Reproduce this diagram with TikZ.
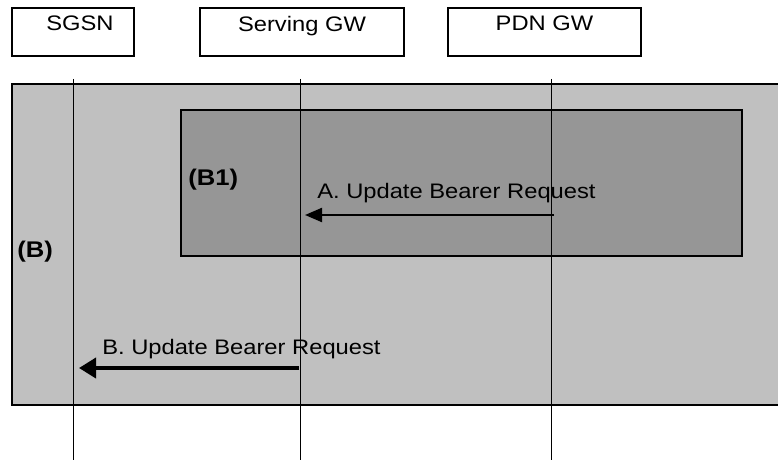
\documentclass[tikz,border=0pt]{standalone}
\usepackage{fontspec}
\setmainfont{Liberation Sans}[FakeStretch=1.13]
\usetikzlibrary{arrows.meta}
\definecolor{outerfill}{HTML}{C0C0C0}
\definecolor{innerfill}{HTML}{969696}
\tikzset{
  entity/.style={draw,line width=1.5pt,minimum height=36pt,inner sep=0pt},
  entlabel/.style={anchor=north,inner sep=0pt,yshift=-6.75pt,font=\fontsize{15.75}{18}\selectfont},
  lifeline/.style={line width=.75pt},
  msgtext/.style={anchor=base west,inner sep=0pt,font=\fontsize{15.75}{18}\selectfont},
  proctext/.style={anchor=base west,inner sep=0pt,font=\fontsize{17}{20}\selectfont\bfseries},
  msgthin/.style={line width=1.6pt,-{Triangle[length=12.75pt,width=10.5pt]}},
  msgthick/.style={line width=2.8pt,-{Triangle[length=12.75pt,width=15pt]}}
}
\begin{document}
\begin{tikzpicture}[x=.75pt,y=-.75pt]
\path[use as bounding box] (0,0) rectangle (778,460);
% entities
\node[entity,minimum width=91.5pt,label={[entlabel,xshift=5.25pt]north:SGSN}] (sgsn) at (73,32) {};
\node[entity,minimum width=153pt,label={[entlabel]north:Serving GW}] (sgw) at (302,32) {};
\node[entity,minimum width=144.75pt,label={[entlabel]north:PDN GW}] (pgw) at (544.5,32) {};
% procedure (B) and sub-procedure (B1)
\fill[outerfill] (12,84) rectangle (778,405);
\draw[line width=1.5pt] (778,84) -- (12,84) -- (12,405) -- (778,405);
\draw[fill=innerfill,line width=1.5pt] (181,110) rectangle (742,256);
% lifelines
\coordinate (sgsnT) at (73,79);  \coordinate (sgsnB) at (73,460);
\coordinate (sgwT) at (300,79);  \coordinate (sgwB) at (300,460);
\coordinate (pgwT) at (551,79);  \coordinate (pgwB) at (551,460);
\draw[lifeline] (sgsnT) -- (sgsnB);
\draw[lifeline] (sgwT) -- (sgwB);
\draw[lifeline] (pgwT) -- (pgwB);
% messages
\coordinate (aFrom) at (554,215); \coordinate (aTo) at (305,215);
\coordinate (bFrom) at (299,368); \coordinate (bTo) at (79,368);
\draw[msgthin] (aFrom) -- (aTo);
\draw[msgthick] (bFrom) -- (bTo);
\node[msgtext] (aText) at (317,198) {A. Update Bearer Request};
\node[msgtext] (bText) at (102,354) {B. Update Bearer Request};
\node[proctext] (b1Text) at (188,185) {(B1)};
\node[proctext] (bText2) at (17,257) {(B)};
\end{tikzpicture}
\end{document}
